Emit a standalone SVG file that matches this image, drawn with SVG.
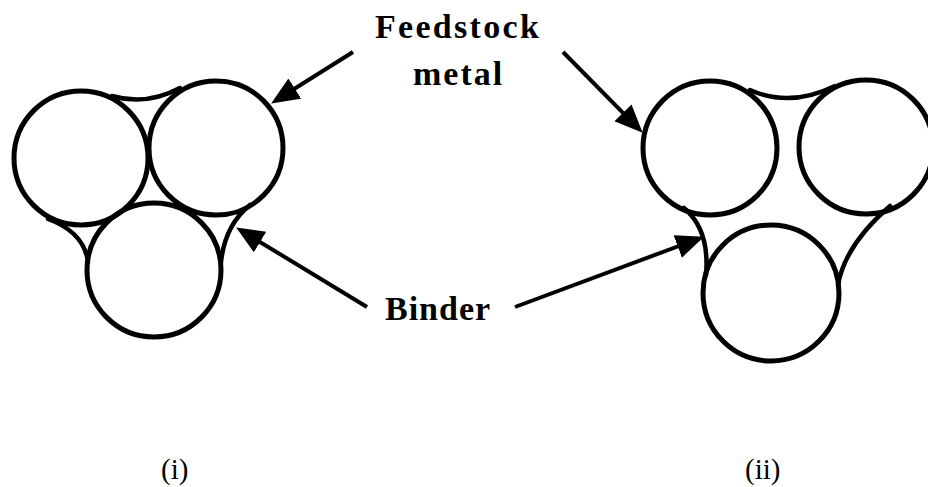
<svg xmlns="http://www.w3.org/2000/svg" width="928" height="487" viewBox="0 0 928 487">
<style>
.c{fill:none;stroke:#000;stroke-width:5}
.b{fill:none;stroke:#000;stroke-width:4.5;stroke-linecap:round}
.a{fill:none;stroke:#000;stroke-width:4}
.t{font-family:"Liberation Serif","Times New Roman",serif;font-weight:bold;font-size:34px;fill:#000}
.l{font-family:"Liberation Serif","Times New Roman",serif;font-size:29px;fill:#000}
</style>
<defs>
<marker id="ah" markerUnits="userSpaceOnUse" markerWidth="30" markerHeight="26" refX="7" refY="12" orient="auto">
<path d="M0,0 L28,12 L0,24 Z" fill="#000"/>
</marker>
</defs>
<rect width="928" height="487" fill="#fff"/>
<g id="packing-i">
<circle class="c" cx="81" cy="158" r="67"/>
<circle class="c" cx="216" cy="148" r="67"/>
<circle class="c" cx="154" cy="270" r="67"/>
<path class="b" d="M112,96 Q146,106 180,88"/>
<path class="b" d="M48,219 Q84,232 88,262"/>
<path class="b" d="M250,205 Q225,225 221,262"/>
</g>
<g id="packing-ii">
<circle class="c" cx="710" cy="148" r="67"/>
<circle class="c" cx="866" cy="147" r="67"/>
<circle class="c" cx="771" cy="293" r="68"/>
<path class="b" d="M750,90 Q790,108 835,86"/>
<path class="b" d="M684,208 Q710,230 706,275"/>
<path class="b" d="M890,206 Q845,245 838,285"/>
</g>
<g id="label-feedstock">
<text class="t" x="375" y="38" letter-spacing="2.3">Feedstock</text>
<text class="t" x="413" y="85" letter-spacing="2">metal</text>
</g>
<g id="label-binder">
<text class="t" x="385" y="320" letter-spacing="1">Binder</text>
</g>
<g id="label-i"><text class="l" x="161" y="479">(i)</text></g>
<g id="label-ii"><text class="l" x="745" y="479">(ii)</text></g>
<g id="connectors">
<line class="a" x1="353" y1="52" x2="288.9" y2="92.3" marker-end="url(#ah)"/>
<line class="a" x1="563" y1="52" x2="627.9" y2="117.8" marker-end="url(#ah)"/>
<line class="a" x1="367" y1="307" x2="254.1" y2="238.4" marker-end="url(#ah)"/>
<line class="a" x1="515" y1="307" x2="684.3" y2="244" marker-end="url(#ah)"/>
</g>
</svg>
